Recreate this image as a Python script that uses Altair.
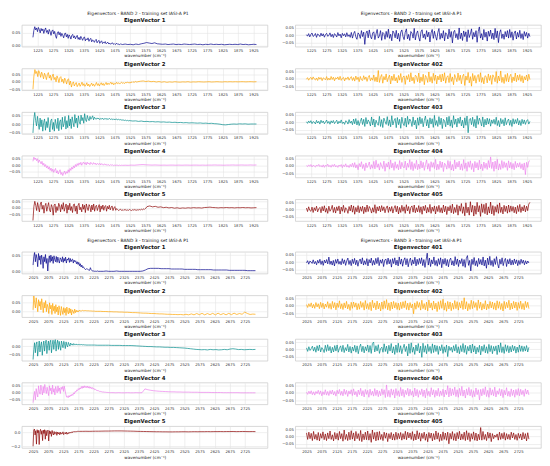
import altair as alt
import numpy as np
import pandas as pd

FONT = "DejaVu Sans"

# wavenumber axes (cm-1)
B2_XDOM = [1174, 1971]
B3_XDOM = [1988, 2800]
B2_XTICKS = [1225, 1275, 1325, 1375, 1425, 1475, 1525, 1575, 1625, 1675, 1725, 1775, 1825, 1875, 1925]
B3_XTICKS = [2025, 2075, 2125, 2175, 2225, 2275, 2325, 2375, 2425, 2475, 2525, 2575, 2625, 2675, 2725]

COLORS = ["#00008b", "#ffa500", "#008b8b", "#ee82ee", "#8b0000"]

# ---- eigenvector values (units of 1e-3).
# Leading eigenvectors: a densely sampled part and a coarser part: (start wn, end wn, values)
b2_ev1_a = [32, 60, 75, 62, 70, 55, 72, 64, 50, 68, 58, 66, 48, 62, 70, 52, 60, 45, 64, 55,
            40, 58, 62, 46, 56, 38, 28, 50, 55, 42, 52, 36, 48, 40, 30, 46, 50, 34, 44, 28,
            42, 36, 25, 40, 44, 30, 38, 26, 34, 40, 24, 32, 22, 36, 28, 20, 30, 34, 18, 26,
            22, 30, 16, 24, 28, 14, 22, 18, 12, 20, 24, 10, 16, 20, 8, 14, 18, 7, 12, 9,
            15, 6, 10, 12, 5, 9, 4, 8, 10, 4, 7, 3, 6, 8, 3, 5, 2, 6, 4, 3]
b2_ev1_b = [5, 3, 4, 2, 5, 3, 6, 8, 11, 9, 7, 10, 6, 5, 4, 5, 3, 4, 5, 3, 4, 3, 5, 4, 3,
            4, 5, 3, 4, 2, 4, 3, 5, 3, 4, 3, 4, 2, 3, 4, 3, 4, 3, 5, 3, 4, 2, 3, 4, 3]

b2_ev2_a = [-50, 40, 82, 55, 70, 35, 75, 60, 30, 65, 48, 20, 58, 40, 15, 50, 62, 25, 45, 10,
            38, 52, 15, 30, 0, 40, 22, -5, 28, 35, 0, 18, -10, 25, 10, -15, 15, 20, -20, 5,
            -35, -10, 0, -28, -15, -5, -32, -20, -8, -30, -18, -2, -25, -12, -30, -22, -6, -28, -15, -32,
            -20, -8, -26, -14, -30, -18, -4, -24, -12, -28, -16, -6, -22, -10, -25, -14, -4, -20, -8, -18,
            -12, -2, -16, -6, -20, -10, -14, -3, -12, -6, -15, -8, -2, -10, -5, -12, -4, -8, -1, -6,
            -3, -9, 0, -5, 2, -4, 0, 3, -2, 1]
b2_ev2_b = [4, 6, 2, 5, 1, 3, -1, 2, -2, 1, -3, 0, -2, 1, -1, -2, 0, -1, 1, -2, 0, -1, 1,
            0, -1, 0, 1, -1, 0, 1, 0, -1, 1, 0, 1, 0, 1, 0, 1, 1, 0, 1, 1, 0, 1]

b2_ev3_a = [-50, 30, 68, 20, -10, 45, 5, -30, 35, -15, 25, -40, 10, 30, -35, 15, -20, 38, -10, -45,
            20, 30, -30, 10, -40, 28, 0, -25, 35, -38, 15, 25, -30, 40, -15, 5, 45, -28, 20, -20,
            50, -10, 30, -25, 42, 10, -15, 55, 5, 35, -20, 48, 15, 0, 52, 20, 38, 5, 60, 25,
            15, 50, 30, 20, 45, 28, 38, 48, 25, 40, 32, 28, 36, 30, 34, 26, 33, 29, 35, 27,
            32, 28, 34, 26, 31, 29, 33, 27, 30, 26, 31, 25, 29, 27, 30, 24, 28, 25, 27, 23,
            26, 22, 24, 21, 23, 20, 22, 19, 21, 20]
b2_ev3_b = [18, 19, 16, 18, 15, 16, 14, 15, 13, 14, 12, 13, 11, 12, 10, 11, 9, 10, 8, 9, 7, 8, 7,
            6, 7, 5, 6, 4, 5, 3, 2, 0, -3, -4, -2, 0, 1, 0, 2, 1, 2, 0, 1, 1, 1]

b2_ev4_a = [30, 62, 45, 55, 35, 50, 20, 40, 25, 10, 30, 0, 15, -10, 5, -20, -5, -30, -12, -40,
            -22, -48, -30, -55, -38, -25, -60, -42, -68, -50, -35, -72, -55, -80, -60, -45, -70, -50, -62, -35,
            -55, -25, -40, -15, -30, -5, -20, 5, -10, 12, -2, 18, 5, 22, 0, 15, 25, 8, 20, 2,
            24, 10, 18, 4, 22, 12, 6, 20, 8, 16, 3, 14, 10, 5, 15, 2, 12, 8, 0, 10,
            4, 8, -2, 6, 2, -3, 5, 0, 3, -3, 1, -2, 2, -1, 0, -3, 1, -2, 0, -1]
b2_ev4_b = [0, -1, 1, 0, 2, 4, 5, 3, 2, 1, 2, 1, 0, 1, 0, 1, 1, 0, 1, 0, 1, 1, 0,
            1, 1, 0, 1, 0, 1, 1, 2, 1, 1, 0, 1, 1, 2, 1, 1, 2, 1, 1, 2, 1, 2]

b2_ev5_a = [-95, 10, 50, 20, -20, 40, 5, -30, 30, 45, -10, 20, -40, 15, 35, -25, 10, 40, -15, -30,
            25, 5, -55, 20, 30, -35, 10, -20, 35, 15, -30, 25, -10, 40, -25, 5, 30, -40, 20, -15,
            35, -20, 10, -35, 25, 30, -25, 15, -45, 20, 35, -15, 5, -30, 28, -10, 20, -35, 30, 0,
            -20, 25, 10, -30, 22, -15, 30, -25, 12, 20, -20, 5, 25, -30, 15, -10, 22, -18, 10, 18,
            -25, 12, -8, 20, -15, 5, 15, -20, 0, 10, -18, -5, -12, -20, -15, -10, -18, -14, -20, -12,
            -17, -13, -19, -15, -18, -12, -16, -20, -14, -17, -12, -16, -15, -18, -13, -16, -12, -15, -10, -14,
            -8, -12, -5, 0, 10]
b2_ev5_b = [15, 8, 12, 5, 8, 2, 5, 0, 3, -2, 1, -3, 0, -2, 1, -1, 2, 0, 1, -1,
            3, 4, 6, 3, 2, 0, 2, 1, 3, 1, 2, 0, 2, 1, 3, 1, 2, 0, 1, 2]

b2_ev401 = [3, -7, 10, -12, 5, 14, -9, -3, 11, -15, 8, 2, -10, 13, -6, 9, -14, 4, 12, -8,
            -2, 15, -11, 6, -16, 10, 1, -13, 17, -5, 7, -18, 12, -4, 9, -12, 16, -9, 3, -15,
            18, -20, 10, 25, -12, -28, 15, 5, -22, 30, -10, 20, -62, 12, 28, -18, 35, -8, -25, 14,
            22, -30, 8, 38, -20, -5, 30, -35, 18, 10, -28, 25, -15, 40, -22, 6, -38, 28, 15, -18,
            32, -26, 12, -42, 20, 35, -10, -30, 18, 42, -25, 5, -36, 24, 14, -20, 45, -32, 10, 28,
            -15, -40, 22, 36, -18, 8, -28, 30, -12, 20, -46, 15, 38, -22, 26, -8, -34, 18, 44, -28,
            12, -20, 30, -38, 16, 5, -26, 40, -15, 24, -52, 20, 32, -18, 10, -30, 48, -24, 14, -36,
            28, -10, 22, -44, 36, -16, 8, 42, -28, 18, -12, 30, -48, 25, 55, -20, 10, -32, 38, -14,
            20, -40, 26, -8, 34, -24, 14, -30, 45, -18, 28, -50, 16, 36, -22, 8, -28, 24, -12, 30,
            -20, 38, -16, 22, -34, 12, 28, -26, 18, -14, 32, -22, 10, -30, 24, -8, 18, -20, 12, -10]
b2_ev402 = [-4, 7, -10, 3, 9, -6, 12, -2, -9, 5, -12, 10, -3, 8, -13, 6, 1, -8, 14, -10,
            4, -9, 15, -5, 10, -14, 7, -2, 12, -8, 16, -11, 3, 9, -15, 6, -4, 12, -10, 5,
            14, -12, 8, -16, 18, -6, 10, -20, 15, -8, -12, 20, -5, 12, -18, 9, 22, -14, 6, -10,
            25, -18, 12, -22, 55, -25, 10, 28, -30, 15, -8, 32, -20, 6, 24, -35, 18, -12, 30, -15,
            8, -28, 22, -10, 35, -25, 12, 18, -38, 20, -5, 28, -22, 40, -15, 10, -32, 24, 15, -20,
            38, -28, 12, -18, 30, -40, 22, 8, -25, 45, -20, 14, -30, 36, -12, 25, -35, 18, -8, 28,
            -22, 32, -15, 40, -30, 10, 20, -26, 35, -18, 12, -40, 28, 6, -20, 38, -12, 24, -34, 16,
            30, -45, 18, -10, 42, -28, 14, -50, 35, -15, 22, -30, 12, 28, -20, 40, -25, 8, -35, 20,
            15, -28, 32, -12, 22, -38, 26, 10, -20, 48, -30, 18, -15, 52, -25, 10, -32, 28, -18, 36,
            -22, 15, 30, -26, 12, -15, 38, -20, 24, -10, 28, -18, 20, -28, 14, -8, 25, -16, 30, -6]
b2_ev403 = [4, -7, 9, -3, 11, -9, 5, 1, -11, 13, -5, 7, -12, 14, -3, 9, -10, 2, 15, -7,
            6, -13, 10, -4, 12, -9, 3, 14, -11, 7, -5, 16, -8, 2, -14, 10, 5, -12, 18, -6,
            8, -16, 22, -10, 25, -18, 12, -22, 5, 28, -15, 20, -28, 32, -12, 16, 2, -25, 36, -18,
            22, -32, 14, -8, -20, 40, -28, 18, -35, 28, 6, -14, 38, -22, 16, -30, 44, -18, 10, 26,
            -36, 32, -16, 20, -40, 34, -6, -22, 28, -32, 40, -14, 22, 8, -28, 36, -18, 14, -44, 30,
            -20, 36, -10, 26, -30, 14, 42, -24, 18, -38, 30, -12, 24, -34, 46, -20, 12, -28, 38, -16,
            28, -42, 20, 10, -30, 34, -18, 40, -26, 16, -36, 44, -14, 22, -32, 28, -8, 36, -24, 14,
            -38, 30, -20, 42, -70, 18, 26, -16, 34, -28, 20, -38, 44, -14, 28, 6, -24, 36, -32, 20,
            -18, 28, -12, 24, -26, 16, -8, 20, -14, 34, -22, 12, -30, 26, -10, 18, -24, 30, -16, 8,
            22, -20, 14, -28, 24, -12, 18, -8, 26, -18, 12, -22, 20, -10, 16, -14, 10, 18, -12, 6]
b2_ev404 = [2, -5, 7, -3, 9, -7, 4, -1, -8, 6, -2, 10, -5, 3, -8, 7, -10, 5, -3, 12,
            -6, 4, -9, 8, -4, 11, -7, 2, -10, 6, -3, 9, -12, 7, -5, 14, -8, 3, -11, 10,
            -6, 18, -9, 22, -14, 8, -26, 16, -6, 28, -18, 10, -32, 20, -12, 4, 26, -22, 8, -16,
            30, -20, 38, -10, 14, -28, 22, 0, -18, 32, -36, 16, -8, 26, -22, 40, -14, 18, -30, 28,
            -16, 10, -26, 36, -20, 24, -4, -14, 32, -28, 18, -10, 42, -24, 28, -32, 16, -18, 38, -26,
            12, -20, 34, -14, 24, -30, 8, 40, -22, 16, -36, 28, -10, 22, -18, 44, -28, 12, -24, 32,
            -12, 26, -38, 18, 6, -22, 36, -16, 30, -28, 10, -34, 40, -20, 24, -8, 32, -26, 14, -30,
            42, -18, 20, -36, 28, -10, 34, -24, 16, -40, 30, -14, 22, -28, 38, -20, 12, -32, 26, -16,
            18, -24, 36, -12, 60, -18, 26, -36, 32, -20, 44, -28, 14, -24, 36, -16, 28, -10, 20, -30,
            34, -14, 24, -20, 16, -26, 30, -12, 18, -8, 22, -18, 14, -28, 20, -58, 24, -10, 30, 35]
b2_ev405 = [10, -14, 18, -6, -12, 16, -20, 12, -8, 22, -16, 5, 14, -22, 20, -10, 25, -18, 8, -26,
            22, -12, 2, 28, -20, 14, -24, 18, -8, 24, -30, 16, -12, 28, -20, 12, 0, -26, 20, -10,
            30, -18, 24, -32, 14, -16, 26, -22, 18, -12, 22, -28, 16, -18, 30, -14, 20, 4, -24, 12,
            -18, 32, -26, 18, -10, 22, -16, 26, -8, 18, -22, 10, 24, -20, 16, -12, 20, -24, 8, 26,
            -16, 22, -30, 14, -20, 28, -12, 18, -26, 32, -10, 20, -28, 14, 24, -18, 30, -22, 12, -16,
            26, -20, 18, -32, 22, -8, 28, -24, 14, -18, 34, -26, 16, -12, 24, -30, 20, -14, 28, -20,
            12, -24, 30, -16, 22, -34, 18, -10, 26, -22, 36, -28, 14, -20, 32, -38, 24, -12, 40, -26,
            18, -42, 45, -22, 16, -38, 52, -18, 28, -44, 24, -32, 48, -16, 26, -46, 38, -20, 34, -28,
            42, -36, 18, -24, 50, -30, 26, -40, 20, -18, 32, -26, 44, -20, 16, -30, 28, -14, 22, -25,
            30, -18, 24, -12, 20, -22, 16, -28, 26, -14, 34, -20, 18, -10, 28, -16, 22, -8, 36, 48]

b3_ev1_a = [20, 45, 58, 30, 52, 40, 15, 55, 35, 48, 22, 50, 38, 10, 45, 30, 52, 25, 40, 2,
            35, 48, 28, 50, 32, 45, 25, 48, 36, 30, 46, 28, 44, 34, 26, 42, 38, 30, 45, 28,
            40, 32, 44, 26, 38, 35, 42, 28, 40, 30, 36, 38, 26, 35, 30, 33, 24, 30, 22, 28,
            18, 24, 14, 20, 12, 15, 10, 8, 6, 9, 8, 6, 5, 4, 12, 6, 3, 2, 2, 1,
            2, 1, 1, 2, 1]
b3_ev1_b = [1, 1, 2, 1, 1, 1, 2, 1, 1, 1, 1, 1, 1, 1, 1, 1, 2, 5, 9, 10, 10, 10, 10, 9, 9, 9, 9, 8, 8, 8,
            8, 8, 7, 7, 7, 7, 7, 6, 6, 6, 6, 6, 6, 5, 5, 5, 5, 5, 5, 4, 4, 4, 4, 4, 4, 4, 3, 3, 3, 3]

b3_ev2_a = [10, 85, 50, 20, 75, 40, 0, 65, 30, 55, 10, 70, 35, -5, 50, 20, 60, 0, 40, 25,
            -10, 48, 15, 35, -15, 45, 5, 30, -10, 38, 0, 25, -18, 32, 10, -20, 28, 5, -15, 22,
            -5, 18, -20, 25, 0, -12, 20, -8, 15, -18, 10, 2, -10, 14, -5, 8, -2, 6, 0, 8,
            3, 6, 4, 7, 5, 6, 5, 6, 5, 5, 4, 5, 4, 4, 4, 3, 3, 3, 3, 2]
b3_ev2_b = [2, 2, 1, 1, 0, 0, -1, -1, -2, -2, -3, -3, -4, -5, -5, -6, -7, -8, -8, -9, -10, -10, -11, -12, -12, -13, -14, -14, -15, -15,
            -16, -15, -17, -14, -17, -12, -17, -10, -16, -9, -17, -10, -16, -9, -17, -8, -16, -10, -17, -9, -16, -8, -15, -10, -14, -2, -10, -15, -13, -14]

b3_ev3_a = [-80, -20, 20, -40, 10, 25, -60, -10, 30, -35, 5, 25, -55, 0, 30, -30, 15, 35, -45, 5,
            30, -25, 20, 35, -40, 10, 35, -20, 25, 38, -30, 15, 35, -20, 28, 0, -25, 30, 10, -10,
            28, 15, -15, 25, 5, -5, 22, 10, 0, 18, 8, 12, 5, 15, 8, 10, 6, 12, 8, 9,
            7, 10, 8, 9, 7, 8, 8, 7, 7, 6]
b3_ev3_b = [6, 6, 6, 5, 5, 5, 5, 5, 4, 4, 4, 4, 3, 3, 3, 3, 2, 1, 0, -1, -2, -3, -3, -4, -5, -5, -6, -7, -7, -8,
            -8, -9, -10, -11, -12, -14, -16, -18, -20, -21, -22, -21, -23, -20, -22, -21, -23, -22, -20, -22,
            -18, -16, -18, -21, -20, -22, -21, -20, -21, -20]

b3_ev4_a = [-70, -20, 10, -50, 30, -5, -30, 50, 10, -10, 55, 20, -15, 45, 0, 60, 25, -5, 40, 10,
            -20, 50, 15, 35, -10, 55, 5, 30, -15, 45, 20, 0, 50, 10, 35, -5, 40, 25, 45, 10,
            48, 20, -10, -30, -25, -35, -20, -30, -15, -22, -10, -18, 0, -8, 10, 5, 20, 15, 30, 22,
            35, 28, 45, 32, 48, 35, 50, 38, 47, 36, 48, 34, 45, 32, 42, 30, 38, 26, 32, 22,
            25, 18, 20, 14, 15, 10, 12, 8, 8, 6, 6, 5, 4, 4, 3, 3, 2, 2, 1, 1]
b3_ev4_b = [1, 0, 1, 0, 0, 1, 0, 0, 1, 0, 1, 28, 22, 18, 15, 13, 11, 10, 9, 8, 7, 7, 6, 6, 5,
            5, 5, 4, 4, 4, 3, 3, 3, 3, 2, 2, 2, 2, 1, 1, 1, 1, 1, 1, 0, 0, 0, 0, 0, 0]

b3_ev5_a = [-200, 30, 45, -40, 20, -170, 35, -10, 25, -175, 15, 40, -30, 20, -120, 30, -20, 35, -100, 25,
            -50, 15, 30, -125, 20, -25, 10, -60, 25, -15, -40, 10, -30, -10, 5, -45, 0, -25, -5, -35,
            0, -30, -10, -20, 5, -35, -15, -5, -25, 0, -30, -10, -20, 0, -15, -5, -10, 5, -5, 10,
            0, 8, 5, 10, 8, 12, 10, 12, 11, 12]
b3_ev5_b = [12, 13, 12, 13, 14, 14, 15, 16, 16, 17, 18, 18, 18, 17, 16, 15, 14, 12, 11, 10, 9, 8, 7, 6, 6, 5, 5, 4,
            4, 5, 5, 6, 6, 5, 6, 7, 6, 7, 7, 8, 7, 8, 8, 9, 8, 9, 9, 10, 8, 9, 10, 9, 8, 9, 8]

b3_ev401 = [-5, 10, -14, 7, 2, -9, 16, -11, 5, -18, 13, -7, 20, -16, 9, -22, 14, -6, 18, -12,
            35, -15, 8, -20, 12, -26, 18, -8, 22, -14, 6, -18, 24, -10, 16, -22, 9, 28, -16, 12,
            -24, 20, -10, 26, -18, 14, -28, 8, 22, -12, 30, -20, 10, -16, 24, -26, 18, -6, 28, -22,
            12, -18, 26, -10, 32, -24, 16, -8, 20, -30, 14, 22, -16, 28, -12, 18, -34, 24, -10, 30,
            -20, 14, -26, 36, -14, 22, -28, 12, 30, -18, 24, -32, 10, 28, -22, 16, -12, 34, -26, 20,
            -16, 26, -10, 30, -24, 18, -36, 14, 62, -20, 28, -30, 16, -12, 36, -22, 12, -28, 24, -16,
            30, -38, 20, -14, 26, -24, 18, -32, 14, 28, -20, 10, -26, 38, -16, 22, -30, 14, -10, 24,
            -28, 18, -36, 26, 45, -22, 12, -60, 20, -16, 32, -24, 10, -30, 26, -14, 18, -20, 36, -26,
            14, -42, 28, -18, 40, -22, 12, -30, 24, -16, 38, -12, -40, 20, -14, 30, -24, 10, 26, -30,
            18, -12, 24, -20, 14, -18, 22, -10, 16, -24, 12, -16, 20, -8, 14, -18, 10, -12, 8, -6]
b3_ev402 = [8, -12, 14, -6, 20, -15, 10, -18, 22, -8, 14, -20, 24, -12, 18, -22, 12, -10, 28, -18,
            16, -24, 30, -14, 22, -28, 18, -12, 34, -20, 14, -26, 20, -15, 30, -22, 10, -32, 24, -18,
            26, -10, 20, -28, 15, -24, 30, -12, 22, -30, 36, -20, 15, -26, 24, -34, 38, -15, 20, -28,
            32, -22, 18, -36, 26, -24, 34, -18, 42, -28, 20, -34, 26, -22, 30, -16, 22, -26, 18, -30,
            24, -20, 28, -14, 34, -26, 18, -30, 22, -15, 12, -55, 20, -24, 30, -12, 22, -30, 38, -20,
            15, -28, 25, -35, 40, -15, 20, -30, 32, -22, 18, -40, 28, -25, 35, -18, 45, -30, 20, -38,
            30, -22, 26, -34, 18, -24, 36, -20, 28, -30, 22, -16, 34, -26, 55, -22, 28, -35, 15, -25,
            38, -20, 30, -12, 22, -32, 40, -18, 25, -30, 15, -22, 35, -28, 12, -20, 30, -15, 26, -24,
            20, -30, 34, -18, 28, -26, 16, -36, 30, -20, 24, -14, 38, -28, 18, -22, 30, -16, 26, -32,
            22, -18, 32, -24, 16, -28, 30, -12, 24, -20]
b3_ev403 = [10, -14, 18, -8, 5, 22, -12, 15, -20, 25, -10, 30, -18, 12, 0, -22, 28, -14, 32, -10,
            20, -25, 14, -18, 26, -12, 30, -20, 8, 24, -16, 28, -22, 12, -10, 34, -18, 20, -26, 16,
            -12, 28, -20, 24, -30, 14, 36, -16, 22, -24, 18, -10, 30, -20, 26, -28, 40, 50, -18, 25,
            -12, 32, -28, 5, 15, -20, 38, -15, 22, -30, 28, -12, 40, -25, 18, -35, 30, -22, 42, -20,
            25, -30, 8, 35, -15, 20, -45, 38, -28, 45, -20, 15, -35, 30, -12, 40, -25, 22, -55, 42,
            -20, 25, -30, 35, -15, 20, -28, 38, -22, 30, -15, 25, -35, 20, -10, 32, -28, 18, -20, 30,
            -50, 22, -8, 15, -20, 25, -12, 34, -24, 18, -30, 26, -16, 40, -22, 28, -34, 20, -12, 30,
            -26, 36, -18, 24, -32, 14, -20, 28, -38, 22, -14, 32, -24, 18, -28, 34, -16, 26, -30, 20,
            -12, 24, -36, 30, -20, 45, -22, 18, -28, 32, -14, 26, -24, 20, -18, 28, -10, 22, -26, 16,
            -20, 30, -14, 24, -16, 20, -12, 26, -18, 14]
b3_ev404 = [5, -10, 12, -6, 15, -12, 8, -15, 10, -5, 18, -10, 14, -20, 8, -12, 22, -15, 10, -18,
            16, -8, 20, -14, 10, -22, 18, -6, 24, -16, 12, -20, 26, -10, 18, -24, 14, -8, 22, -18,
            28, -14, 10, -26, 20, -12, 32, -20, 16, -28, 24, -10, 18, -30, 26, -16, 12, -22, 30, -18,
            20, -26, 14, -20, 28, -12, 22, -32, 55, -25, 18, -30, 28, -15, 22, -35, 30, -18, 15, -25,
            38, -20, 25, -30, 18, -12, 32, -22, 26, -16, 14, -28, 34, -20, 24, -30, 16, -12, 28, -24,
            20, -34, 30, -18, 12, -26, 36, -14, 22, -30, 18, -20, 32, -24, 14, -18, 26, -28, 20, -12,
            50, -28, 35, -20, 28, -15, 40, -25, 22, -30, 32, -18, 45, -22, 20, -35, 28, -15, 38, -20,
            24, -30, 16, -26, 34, -12, 22, -48, 25, -20, 30, -12, 42, -25, 18, -30, 35, -15, 22, -20,
            40, -28, 15, -10, 30, -20, 25, -32, 18, -14, 36, -22, 12, -26, 28, -18, 20, -30, 24, -16,
            30, -20, 25, -12, 18, -24, 28, -8, 20, -14]
b3_ev405 = [25, -20, 30, -15, 22, -28, 35, -18, 15, -25, 28, -30, 20, -12, 32, -22, 18, -28, 25, -15,
            38, -20, 12, -30, 28, -18, 22, -25, 35, -15, 20, -32, 45, -20, 15, -28, 30, -22, 40, -18,
            25, -30, 35, -15, 20, -28, 42, -35, 18, -22, 30, -22, 38, -25, 20, -40, 45, -18, 28, -30,
            32, -25, 35, -20, 15, -28, 30, -12, 25, -35, 20, -15, 28, -24, 18, -25, 30, -20, 22, -15,
            28, -25, 20, -18, 36, -22, 30, -10, 25, -20, 34, -28, 18, -24, 40, -16, 26, -32, 22, -14,
            30, -26, 18, -36, 28, -12, 24, -30, 20, -22, 38, -18, 26, -34, 16, -28, 32, -20, 24, -26,
            30, -50, 22, -18, 34, -26, 20, -30, 28, -16, 36, -24, 18, -20, 30, -28, 40, -22, 26, -34,
            20, -18, 32, -26, 24, -30, 16, -22, 62, -25, 35, -20, 15, -28, 30, -12, 25, -35, 20, -15,
            10, -5, 18, -25, 30, -20, 22, -15, 28, -25, 20, -18, 15, -22, 30, -10, 25, -20, 14, -26,
            22, -12, 18, -24, 28, -16, 20, -30, 26, -18]

# ---- panel specs: (segments, title, y domain, y ticks, y format) ----
RT = [-0.05, 0.0, 0.05]
B2_LEFT = [
    ([(1210, 1500, b2_ev1_a), (1509, 1935, b2_ev1_b)], "EigenVector 1", [-0.006, 0.082], [0.0, 0.05], ".2f"),
    ([(1210, 1550, b2_ev2_a), (1559, 1935, b2_ev2_b)], "EigenVector 2", [-0.057, 0.089], RT, ".2f"),
    ([(1210, 1525, b2_ev3_a), (1534, 1935, b2_ev3_b)], "EigenVector 3", [-0.056, 0.069], RT, ".2f"),
    ([(1210, 1500, b2_ev4_a), (1509, 1935, b2_ev4_b)], "EigenVector 4", [-0.095, 0.073], RT, ".2f"),
    ([(1210, 1580, b2_ev5_a), (1589, 1935, b2_ev5_b)], "EigenVector 5", [-0.1, 0.065], RT, ".2f"),
]
R2 = [-0.078, 0.068]
B2_RIGHT = [
    ([(1210, 1935, b2_ev401)], "EigenVector 401", R2, RT, ".2f"),
    ([(1210, 1935, b2_ev402)], "EigenVector 402", R2, RT, ".2f"),
    ([(1210, 1935, b2_ev403)], "EigenVector 403", R2, RT, ".2f"),
    ([(1210, 1935, b2_ev404)], "EigenVector 404", R2, RT, ".2f"),
    ([(1210, 1935, b2_ev405)], "EigenVector 405", R2, RT, ".2f"),
]
B3_LEFT = [
    ([(2025, 2240, b3_ev1_a), (2249, 2760, b3_ev1_b)], "EigenVector 1", [-0.006, 0.06], [0.0, 0.05], ".2f"),
    ([(2025, 2230, b3_ev2_a), (2239, 2760, b3_ev2_b)], "EigenVector 2", [-0.03, 0.088], [0.0, 0.05], ".2f"),
    ([(2025, 2200, b3_ev3_a), (2209, 2760, b3_ev3_b)], "EigenVector 3", [-0.088, 0.042], [-0.05, 0.0], ".2f"),
    ([(2025, 2280, b3_ev4_a), (2289, 2760, b3_ev4_b)], "EigenVector 4", [-0.083, 0.073], RT, ".2f"),
    ([(2025, 2180, b3_ev5_a), (2189, 2760, b3_ev5_b)], "EigenVector 5", [-0.225, 0.085], [-0.2, 0.0], ".1f"),
]
R3 = [-0.079, 0.071]
B3_RIGHT = [
    ([(2025, 2760, b3_ev401)], "Eigenvector 401", R3, RT, ".2f"),
    ([(2025, 2760, b3_ev402)], "Eigenvector 402", R3, RT, ".2f"),
    ([(2025, 2760, b3_ev403)], "Eigenvector 403", R3, RT, ".2f"),
    ([(2025, 2760, b3_ev404)], "Eigenvector 404", R3, RT, ".2f"),
    ([(2025, 2760, b3_ev405)], "Eigenvector 405", R3, RT, ".2f"),
]

W, H = 248, 22


def panel(spec, color, xdom, xticks):
    segs, title, ydom, yticks, yfmt = spec
    wn, v = [], []
    for x0, x1, vals in segs:
        wn.extend(np.linspace(x0, x1, len(vals)))
        v.extend(np.asarray(vals, dtype=float) / 1000.0)
    df = pd.DataFrame({"wn": wn, "v": v})
    return alt.Chart(df).mark_line(color=color, strokeWidth=0.7, clip=True).encode(
        x=alt.X("wn:Q", scale=alt.Scale(domain=xdom, nice=False, zero=False),
                axis=alt.Axis(values=xticks, format="d", title="wavenumber (cm⁻¹)")),
        y=alt.Y("v:Q", scale=alt.Scale(domain=ydom, nice=False, zero=False),
                axis=alt.Axis(values=yticks, format=yfmt, title=None)),
    ).properties(width=W, height=H,
                 title=alt.TitleParams(title, fontSize=5.4, fontWeight="bold", offset=1.5))


def column(specs, band_title, xdom, xticks):
    charts = [panel(s, COLORS[i], xdom, xticks) for i, s in enumerate(specs)]
    return alt.vconcat(*charts, spacing=2,
                       title=alt.TitleParams(band_title, fontSize=4.5, fontWeight="normal",
                                             anchor="middle", offset=2.5, color="#222222"))


T2 = "Eigenvectors - BAND 2 - training set IASI-A P1"
T3 = "Eigenvectors - BAND 3 - training set IASI-A P1"

band2 = alt.hconcat(column(B2_LEFT, T2, B2_XDOM, B2_XTICKS),
                    column(B2_RIGHT, T2, B2_XDOM, B2_XTICKS), spacing=13)
band3 = alt.hconcat(column(B3_LEFT, T3, B3_XDOM, B3_XTICKS),
                    column(B3_RIGHT, T3, B3_XDOM, B3_XTICKS), spacing=13)

chart = alt.vconcat(band2, band3, spacing=4).properties(
    padding={"left": 0, "top": 0, "right": 0, "bottom": 0}
).configure(font=FONT).configure_axis(
    grid=True, gridColor="#e4e4e4", gridWidth=0.6, domain=False, ticks=False,
    labelFontSize=3.8, labelColor="#333333", labelPadding=2, labelOverlap=False,
    titleFontSize=4.2, titleFontWeight="normal", titleColor="#222222", titlePadding=1.5,
).configure_axisY(minExtent=13, maxExtent=13).configure_view(
    stroke="#c8c8c8", strokeWidth=0.7
).configure_title(color="#111111")

chart.save("out.html", embed_options={"renderer": "svg", "actions": False})
